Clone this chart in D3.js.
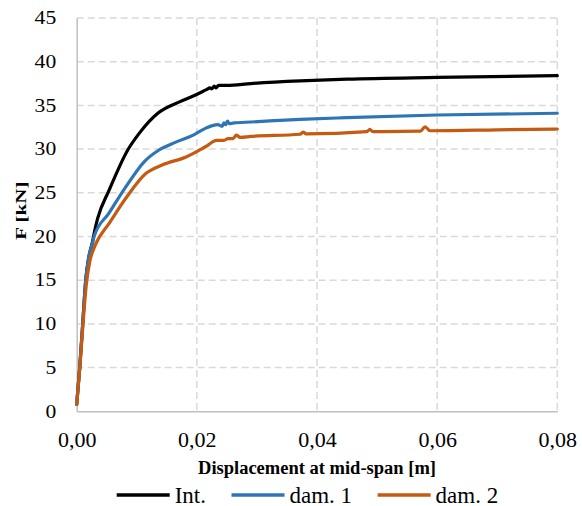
<!DOCTYPE html>
<html>
<head>
<meta charset="utf-8">
<script src="https://cdn.jsdelivr.net/npm/d3@7"></script>
<style>
  body { margin: 0; background: #fff; }
  svg { display: block; }
</style>
</head>
<body>
<div id="chart"></div>
<script>
// displacement [m] / force [kN]
var intD = [0, 0.0005, 0.001, 0.0015, 0.002, 0.0026, 0.0031, 0.0035, 0.0054, 0.0085, 0.0104, 0.0135, 0.0171, 0.0195, 0.0216, 0.0222, 0.0225, 0.0229, 0.0232, 0.0236, 0.025, 0.029, 0.0372, 0.045, 0.06, 0.08];
var intF = [0.8, 5, 10, 15, 17.6, 19.3, 21.0, 22.1, 25.3, 29.9, 31.8, 34.1, 35.4, 36.1, 36.8, 37.0, 36.9, 37.2, 37.0, 37.3, 37.3, 37.5, 37.8, 38.0, 38.2, 38.4];

var dam1D = [0, 0.0005, 0.001, 0.0015, 0.002, 0.0026, 0.0029, 0.0054, 0.0082, 0.0113, 0.0137, 0.0165, 0.0194, 0.0215, 0.0235, 0.0242, 0.0245, 0.0248, 0.0251, 0.0254, 0.0262, 0.029, 0.0372, 0.045, 0.06, 0.08];
var dam1F = [0.8, 5, 10, 15, 17.6, 19.2, 20.0, 22.7, 25.7, 28.6, 29.9, 30.8, 31.6, 32.4, 32.8, 32.6, 33.0, 32.8, 33.2, 32.9, 33.0, 33.1, 33.4, 33.6, 33.9, 34.1];

var dam2D = [0, 0.0005, 0.001, 0.0016, 0.0022, 0.0029, 0.0032, 0.0054, 0.0082, 0.0115, 0.0143, 0.0182, 0.0215, 0.0233, 0.0245, 0.0252, 0.026, 0.0266, 0.0272, 0.029, 0.0372, 0.0377, 0.0382, 0.0483, 0.0488, 0.0493, 0.0572, 0.058, 0.0588, 0.07, 0.08];
var dam2F = [0.8, 4.8, 9.5, 14.5, 17.2, 18.7, 19.2, 21.5, 24.4, 27.2, 28.2, 29.1, 30.3, 31.0, 31.0, 31.2, 31.2, 31.6, 31.35, 31.45, 31.7, 31.95, 31.75, 32.0, 32.25, 32.0, 32.05, 32.55, 32.1, 32.2, 32.3];

var seriesNames = ["Int.", "dam. 1", "dam. 2"];
var seriesColors = ["#000000", "#2E75B6", "#C55A11"];

var xTicks = [0, 0.02, 0.04, 0.06, 0.08];
var yTicks = [0, 5, 10, 15, 20, 25, 30, 35, 40, 45];

var W = 582, H = 506;
var margin = {top: 18, right: 24.7, bottom: 94.7, left: 76.7};
var w = W - margin.left - margin.right;
var h = H - margin.top - margin.bottom;
var serif = "'Liberation Serif', 'Times New Roman', serif";

function main(){
  var series = [
    {name: seriesNames[0], color: seriesColors[0], d: intD, f: intF},
    {name: seriesNames[1], color: seriesColors[1], d: dam1D, f: dam1F},
    {name: seriesNames[2], color: seriesColors[2], d: dam2D, f: dam2F}
  ];

  var svg = d3.select("#chart")
    .append("svg")
    .attr("width", W)
    .attr("height", H);

  var g = svg.append("g")
    .attr("transform", "translate(" + margin.left + "," + margin.top + ")");

  var x = d3.scaleLinear().domain([0, 0.08]).range([0, w]);
  var y = d3.scaleLinear().domain([0, 45]).range([h, 0]);

  // dashed grid
  g.append("g").selectAll("line")
    .data(yTicks.filter(d => d > 0))
    .enter().append("line")
    .attr("x1", 0).attr("x2", w)
    .attr("y1", d => y(d)).attr("y2", d => y(d))
    .style("stroke", "#d9d9d9")
    .style("stroke-width", 1.5)
    .style("stroke-dasharray", "7,4");

  g.append("g").selectAll("line")
    .data(xTicks.filter(d => d > 0))
    .enter().append("line")
    .attr("x1", d => x(d)).attr("x2", d => x(d))
    .attr("y1", 0).attr("y2", h)
    .style("stroke", "#d9d9d9")
    .style("stroke-width", 1.5)
    .style("stroke-dasharray", "7,4");

  // axes
  var xAxis = d3.axisBottom(x)
    .tickValues(xTicks)
    .tickSize(0)
    .tickFormat(d => d3.format(".2f")(d).replace(".", ","));

  var yAxis = d3.axisLeft(y)
    .tickValues(yTicks)
    .tickSize(0);

  var gx = g.append("g")
    .attr("transform", "translate(0," + h + ")")
    .call(xAxis);
  gx.select(".domain").style("stroke", "#bfbfbf").style("stroke-width", 1.5);
  gx.selectAll("text")
    .attr("y", 36)
    .attr("dy", 0)
    .style("font-family", serif)
    .style("font-size", "22px")
    .style("fill", "#000");

  var gy = g.append("g").call(yAxis);
  gy.select(".domain").style("stroke", "#bfbfbf").style("stroke-width", 1.5);
  gy.selectAll("text")
    .attr("x", 0)
    .attr("transform", "translate(-20.5,0) scale(1.2,1)")
    .style("font-family", serif)
    .style("font-size", "18px")
    .style("fill", "#000");

  // curves
  var line = d3.line()
    .x(p => x(p[0]))
    .y(p => y(p[1]))
    .curve(d3.curveMonotoneX);

  g.selectAll(".curve")
    .data(series)
    .enter().append("path")
    .attr("class", "curve")
    .attr("d", s => line(s.d.map((v, i) => [v, s.f[i]])))
    .style("fill", "none")
    .style("stroke", s => s.color)
    .style("stroke-width", 3.2)
    .style("stroke-linejoin", "round")
    .style("stroke-linecap", "round");

  // axis titles
  svg.append("text")
    .attr("x", margin.left + w / 2)
    .attr("y", 474)
    .attr("text-anchor", "middle")
    .style("font-family", serif)
    .style("font-weight", "bold")
    .style("font-size", "18.5px")
    .text("Displacement at mid-span [m]");

  svg.append("text")
    .attr("transform", "translate(26," + (margin.top + h / 2 - 4) + ") rotate(-90) scale(1.4,1)")
    .attr("text-anchor", "middle")
    .style("font-family", serif)
    .style("font-weight", "bold")
    .style("font-size", "15px")
    .text("F [kN]");

  // legend
  var lx = 116.7;
  series.forEach(function(s){
    var item = svg.append("g");
    item.append("line")
      .attr("x1", lx).attr("x2", lx + 53)
      .attr("y1", 495).attr("y2", 495)
      .style("stroke", s.color)
      .style("stroke-width", 3.5);
    var t = item.append("text")
      .attr("x", lx + 58)
      .attr("y", 502.5)
      .style("font-family", serif)
      .style("font-size", "23px")
      .text(s.name);
    lx = lx + 58 + t.node().getComputedTextLength() + 25.5;
  });
}

main();
</script>
</body>
</html>
